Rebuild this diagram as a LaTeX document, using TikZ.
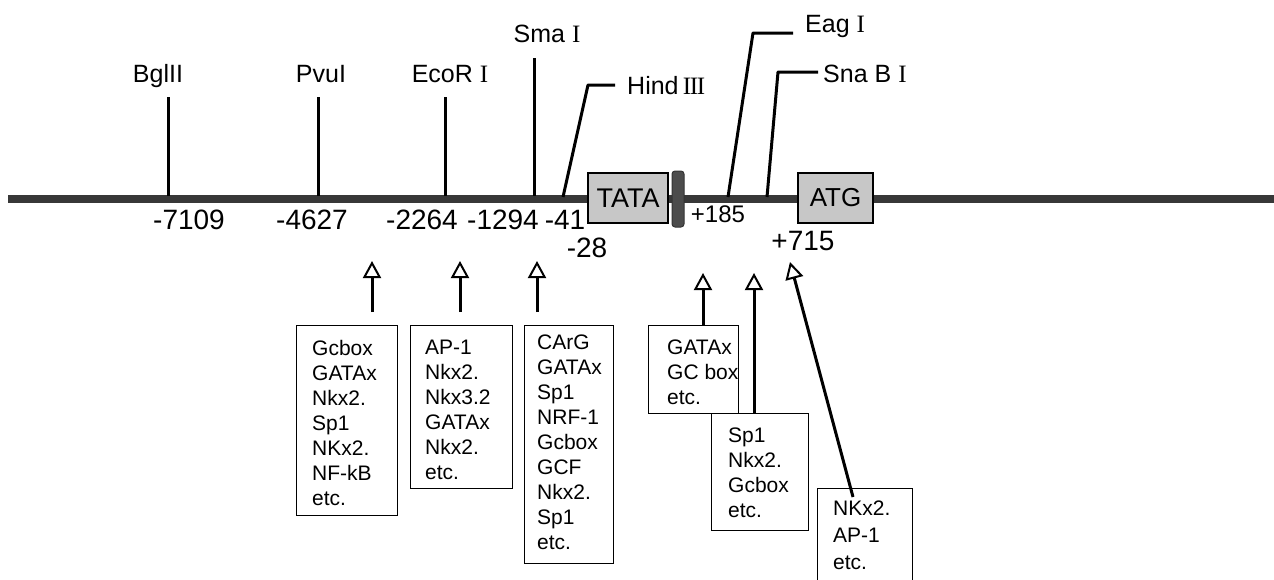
\documentclass[tikz,border=0pt]{standalone}
\usepackage{fontspec}
\setmainfont{Liberation Sans}
\newfontfamily\serfont{Liberation Serif}
\usetikzlibrary{arrows.meta}
\newcommand{\RI}{{\serfont I}}
\newcommand{\RIII}{{\serfont\,I\kern-0.05em I\kern-0.05em I}}
\begin{document}
\begin{tikzpicture}[x=1pt,y=-1pt,
  toplab/.style={font=\fontsize{25}{28}\selectfont, inner sep=0pt},
  numlab/.style={font=\fontsize{28}{30}\selectfont, inner sep=0pt, anchor=base},
  tick/.style={line width=3pt, line join=round},
  element/.style={draw=black, line width=1.5pt, fill=black!22, inner sep=0pt, font=\fontsize{27}{30}\selectfont},
  tfbox/.style={draw=black, line width=1.3pt, anchor=north west, inner sep=0pt},
  tftext/.style={anchor=north west, inner sep=0pt, align=left, font=\fontsize{21}{25}\selectfont},
  uparrow/.style={line width=3pt, -{Triangle[open, length=17pt, width=18pt, line width=2pt]}}
]
\clip (0,0) rectangle (1274,579);
\fill[white] (0,0) rectangle (1274,579);

% main DNA line
\coordinate (L0) at (8,199);
\coordinate (L1) at (1274,199);
\draw[line width=8pt, black!78] (L0) -- (L1);

% elements
\node[element, minimum width=80pt, minimum height=50pt] (tata) at (628,198) {TATA};
\node[draw=black!80, fill=black!70, line width=1pt, rounded corners=3pt, minimum width=12pt, minimum height=56pt, inner sep=0pt] (bar) at (678,199) {};
\node[element, minimum width=75pt, minimum height=50pt, font=\fontsize{26}{30}\selectfont] (atg) at (835.5,198) {ATG};

% restriction sites
\node[toplab, anchor=base] (bgl) at (158,82) {BglII};
\coordinate (bglT) at (168,97); \coordinate (bglB) at (168,196);
\draw[tick] (bglT) -- (bglB);

\node[toplab, anchor=base] (pvu) at (321,82) {PvuI};
\coordinate (pvuT) at (318,97); \coordinate (pvuB) at (318,196);
\draw[tick] (pvuT) -- (pvuB);

\node[toplab, anchor=base] (eco) at (450,82) {EcoR \RI};
\coordinate (ecoT) at (445,97); \coordinate (ecoB) at (445,196);
\draw[tick] (ecoT) -- (ecoB);

\node[toplab, anchor=base] (sma) at (547,42) {Sma \RI};
\coordinate (smaT) at (534,58); \coordinate (smaB) at (534,196);
\draw[tick] (smaT) -- (smaB);

\node[toplab, anchor=base west] (hind) at (627,94) {Hind\RIII};
\coordinate (hindB) at (563,197); \coordinate (hindK) at (588,85); \coordinate (hindE) at (615,85);
\draw[tick] (hindB) -- (hindK) -- (hindE);

\node[toplab, anchor=base west] (eag) at (805,32) {Eag \RI};
\coordinate (eagB) at (728,197); \coordinate (eagK) at (753,33); \coordinate (eagE) at (793,33);
\draw[tick] (eagB) -- (eagK) -- (eagE);

\node[toplab, anchor=base west] (sna) at (823,82) {Sna B \RI};
\coordinate (snaB) at (767,197); \coordinate (snaK) at (778,72); \coordinate (snaE) at (818,72);
\draw[tick] (snaB) -- (snaK) -- (snaE);

% positions
\node[numlab] (p7109) at (189,229) {-7109};
\node[numlab] (p4627) at (312,229) {-4627};
\node[numlab] (p2264) at (422,229) {-2264};
\node[numlab] (p1294) at (503,229) {-1294};
\node[numlab] (p41) at (565,229) {-41};
\node[numlab] (p28) at (587,257) {-28};
\node[numlab, font=\fontsize{24}{28}\selectfont] (p185) at (718,222) {+185};
\node[numlab] (p715) at (803,250) {+715};

% factor boxes
\node[tfbox, minimum width=101pt, minimum height=190pt] (b1) at (296,325) {};
\node[tftext] (t1) at (312,340) {Gcbox\\GATAx\\Nkx2.\\Sp1\\NKx2.\\NF-kB\\etc.};

\node[tfbox, minimum width=102pt, minimum height=163pt] (b2) at (410,325) {};
\node[tftext] (t2) at (425,340) {AP-1\\Nkx2.\\Nkx3.2\\GATAx\\Nkx2.\\etc.};

\node[tfbox, minimum width=89pt, minimum height=238pt] (b3) at (524,325) {};
\node[tftext] (t3) at (537,335) {CArG\\GATAx\\Sp1\\NRF-1\\Gcbox\\GCF\\Nkx2.\\Sp1\\etc.};

\node[tfbox, minimum width=90pt, minimum height=88pt] (b4) at (648,325) {};
\node[tftext] (t4) at (667,340) {GATAx\\GC box\\etc.};

\node[tfbox, minimum width=97pt, minimum height=117pt] (b5) at (711,413) {};
\node[tftext] (t5) at (728,428) {Sp1\\Nkx2.\\Gcbox\\etc.};

\node[tfbox, minimum width=95pt, minimum height=120pt] (b6) at (817,488) {};
\node[tftext, font=\fontsize{21}{27}\selectfont] (t6) at (833,501) {NKx2.\\AP-1\\etc.};

% arrows
\coordinate (a1s) at (372,312); \coordinate (a1t) at (372,261);
\coordinate (a2s) at (460,312); \coordinate (a2t) at (460,261);
\coordinate (a3s) at (537,312); \coordinate (a3t) at (537,261);
\coordinate (a4t) at (703,273);
\coordinate (a5t) at (754,273);
\coordinate (a6s) at (853,497); \coordinate (a6t) at (790,262);
\draw[uparrow] (a1s) -- (a1t);
\draw[uparrow] (a2s) -- (a2t);
\draw[uparrow] (a3s) -- (a3t);
\draw[uparrow] (b4.north -| a4t) -- (a4t);
\draw[uparrow] (b5.north -| a5t) -- (a5t);
\draw[uparrow] (a6s) -- (a6t);
\end{tikzpicture}
\end{document}
